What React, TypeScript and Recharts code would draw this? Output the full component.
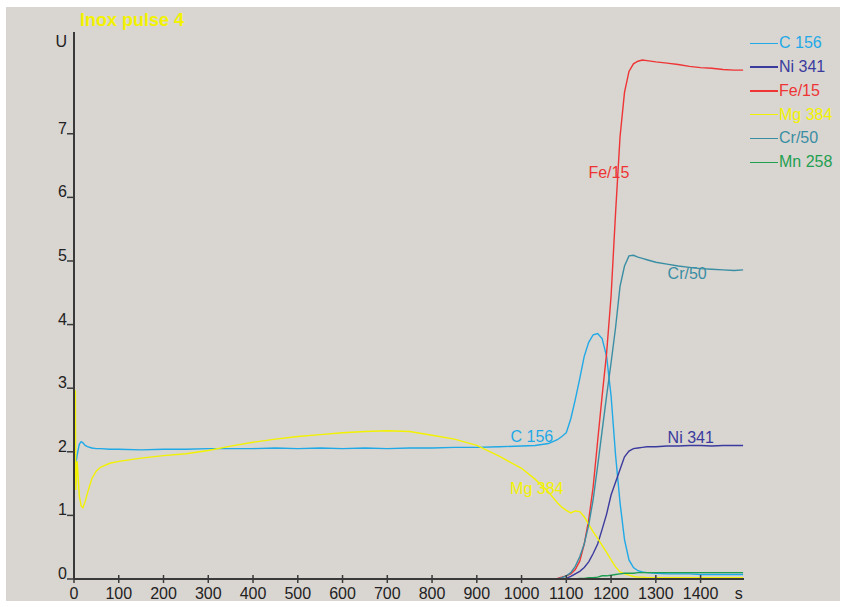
import React from 'react';
import { LineChart, Line, XAxis, YAxis, ReferenceDot } from 'recharts';

// ---------- data ----------
const times = [
  0, 3, 4, 7, 12, 16, 20, 25, 30, 40, 50, 60, 80, 100,
  150, 200, 250, 300, 350, 400, 450, 500, 550, 600, 650, 700, 750, 800, 850, 900, 950, 1000,
  1030, 1060, 1080,
  1090, 1100, 1110, 1120, 1130, 1140, 1150, 1160, 1170, 1180, 1190, 1200, 1210, 1220, 1230, 1240, 1250, 1260, 1270, 1280,
  1300, 1325, 1350, 1375, 1400, 1425, 1450, 1475, 1495,
];

const c156 = [
  1.75, 1.76, 1.8, 1.95, 2.12, 2.16, 2.14, 2.1, 2.08, 2.06, 2.05, 2.05, 2.04, 2.04,
  2.03, 2.04, 2.04, 2.05, 2.05, 2.05, 2.06, 2.05, 2.06, 2.05, 2.06, 2.05, 2.06, 2.06, 2.07, 2.07, 2.08, 2.09,
  2.1, 2.13, 2.19,
  2.24, 2.3, 2.52, 2.82, 3.15, 3.5, 3.72, 3.84, 3.86, 3.78, 3.5, 2.88, 1.95, 1.2, 0.62, 0.3, 0.18, 0.13, 0.11, 0.1,
  0.09, 0.08, 0.08, 0.08, 0.07, 0.07, 0.07, 0.07, 0.07,
];

const ni341 = [
  0, 0, 0, 0, 0, 0, 0, 0, 0, 0, 0, 0, 0, 0,
  0, 0, 0, 0, 0, 0, 0, 0, 0, 0, 0, 0, 0, 0, 0, 0, 0, 0,
  0, 0, 0,
  0, 0.01, 0.04, 0.08, 0.12, 0.18, 0.27, 0.4, 0.55, 0.78, 1.02, 1.32, 1.52, 1.72, 1.92, 2.01, 2.05, 2.06, 2.07, 2.08,
  2.08, 2.09, 2.09, 2.1, 2.1, 2.09, 2.1, 2.1, 2.1,
];

const fe15 = [
  0, 0, 0, 0, 0, 0, 0, 0, 0, 0, 0, 0, 0, 0,
  0, 0, 0, 0, 0, 0, 0, 0, 0, 0, 0, 0, 0, 0, 0, 0, 0, 0,
  0, 0, 0.01,
  0.03, 0.05, 0.08, 0.15, 0.28, 0.55, 0.93, 1.45, 2.17, 2.88, 3.55, 4.45, 5.75, 6.95, 7.65, 7.98, 8.1, 8.14, 8.16, 8.15,
  8.13, 8.11, 8.09, 8.06, 8.04, 8.03, 8.01, 8.0, 8.0,
];

const mg384 = [
  3.0, 2.95, 1.4, 1.85, 1.3, 1.15, 1.12, 1.22, 1.35, 1.58, 1.7, 1.76, 1.82, 1.85,
  1.9, 1.94, 1.97, 2.02, 2.09, 2.15, 2.2, 2.24, 2.27, 2.3, 2.32, 2.33, 2.32, 2.26, 2.2, 2.1, 1.93, 1.74,
  1.57, 1.37, 1.2,
  1.13, 1.08, 1.04, 1.07, 1.06, 0.98, 0.86, 0.74, 0.64, 0.53, 0.42, 0.3, 0.19, 0.11, 0.08, 0.06, 0.04, 0.03, 0.03, 0.02,
  0.02, 0.02, 0.02, 0.02, 0.02, 0.02, 0.02, 0.02, 0.02,
];

const cr50 = [
  0, 0, 0, 0, 0, 0, 0, 0, 0, 0, 0, 0, 0, 0,
  0, 0, 0, 0, 0, 0, 0, 0, 0, 0, 0, 0, 0, 0, 0, 0, 0, 0,
  0, 0, 0,
  0.02, 0.05, 0.1, 0.2, 0.35, 0.55, 0.85, 1.25, 1.78, 2.33, 2.88, 3.4, 3.95, 4.6, 4.92, 5.08, 5.09, 5.06, 5.04, 5.02,
  4.98, 4.95, 4.92, 4.9, 4.88, 4.87, 4.86, 4.85, 4.86,
];

const mn258 = [
  0, 0, 0, 0, 0, 0, 0, 0, 0, 0, 0, 0, 0, 0,
  0, 0, 0, 0, 0, 0, 0, 0, 0, 0, 0, 0, 0, 0, 0, 0, 0, 0,
  0, 0, 0,
  0, 0, 0, 0, 0.01, 0.01, 0.02, 0.02, 0.03, 0.05, 0.05, 0.06, 0.07, 0.08, 0.09, 0.09, 0.09, 0.1, 0.1, 0.1,
  0.1, 0.1, 0.1, 0.1, 0.1, 0.1, 0.1, 0.1, 0.1,
];

const seriesKeys = ['c156', 'ni341', 'fe15', 'mg384', 'cr50', 'mn258'];
const seriesNames = ['C 156', 'Ni 341', 'Fe/15', 'Mg 384', 'Cr/50', 'Mn 258'];
const seriesColors = ['#1fa9e6', '#3b3b9e', '#ee3434', '#f2f200', '#3a8ea3', '#1fa050'];

const xTicks = [0, 100, 200, 300, 400, 500, 600, 700, 800, 900, 1000, 1100, 1200, 1300, 1400];
const xUnitTick = 1485;
const xUnitLabel = 's';
const yTicks = [0, 1, 2, 3, 4, 5, 6, 7];
const yUnitTick = 8.45;
const yUnitLabel = 'U';
const title = 'Inox pulse 4';

// in-plot labels (data coordinates)
const inlineLabels = [
  { name: 'Fe/15', t: 1195, v: 6.4, color: '#ee3434' },
  { name: 'Cr/50', t: 1370, v: 4.81, color: '#3a8ea3' },
  { name: 'C 156', t: 1023, v: 2.24, color: '#1fa9e6' },
  { name: 'Ni 341', t: 1378, v: 2.22, color: '#3b3b9e' },
  { name: 'Mg 384', t: 1034, v: 1.42, color: '#f2f200' },
];

const data = times.map((t, i) => ({
  t,
  c156: c156[i],
  ni341: ni341[i],
  fe15: fe15[i],
  mg384: mg384[i],
  cr50: cr50[i],
  mn258: mn258[i],
}));

// ---------- styling ----------
const FONT = '"Liberation Sans", Arial, sans-serif';
const BG = '#d9d5d1';
const AXIS = '#3a3a3a';
const TXT = '#222222';

const XTick = (props: any) => {
  const { x, y, payload } = props;
  const isUnit = payload.value === xUnitTick;
  return (
    <g>
      {!isUnit && <line x1={x} x2={x} y1={y - 4} y2={y + 4} stroke={AXIS} strokeWidth={1.5} />}
      <text x={x} y={y + 20} textAnchor="middle" fontSize={16} fontFamily={FONT} fill={TXT}>
        {isUnit ? xUnitLabel : String(payload.value)}
      </text>
    </g>
  );
};

const YTick = (props: any) => {
  const { x, y, payload } = props;
  const isUnit = payload.value === yUnitTick;
  return (
    <g>
      {!isUnit && <line x1={x - 7} x2={x} y1={y} y2={y} stroke={AXIS} strokeWidth={1.5} />}
      <text x={x - 7} y={isUnit ? y + 5 : y} textAnchor="end" fontSize={16} fontFamily={FONT} fill={TXT}>
        {isUnit ? yUnitLabel : String(payload.value)}
      </text>
    </g>
  );
};

export default function App() {
  return (
    <div
      style={{
        position: 'absolute',
        left: 6,
        top: 7,
        width: 834,
        height: 594,
        background: BG,
        fontFamily: FONT,
      }}
    >
      <div
        style={{
          position: 'absolute',
          left: 74,
          top: 4,
          fontSize: 18,
          lineHeight: '18px',
          fontWeight: 'bold',
          color: '#f2f200',
          whiteSpace: 'nowrap',
        }}
      >
        {title}
      </div>
      <div style={{ position: 'absolute', left: 744, top: 24.4, width: 90 }}>
        {seriesNames.map((n, i) => (
          <div key={n} style={{ height: 23.8, display: 'flex', alignItems: 'center' }}>
            <div style={{ width: 28, height: 1.5, background: seriesColors[i] }} />
            <div style={{ marginLeft: 1, fontSize: 16, lineHeight: '16px', color: seriesColors[i], whiteSpace: 'nowrap' }}>
              {n}
            </div>
          </div>
        ))}
      </div>
      <LineChart width={834} height={594} data={data} margin={{ top: 25, right: 96, bottom: 0, left: 28 }}>
        <XAxis
          type="number"
          dataKey="t"
          domain={[0, 1497]}
          ticks={[...xTicks, xUnitTick]}
          interval={0}
          tick={<XTick />}
          tickLine={false}
          tickSize={0}
          tickMargin={0}
          axisLine={{ stroke: AXIS, strokeWidth: 2 }}
          height={22}
          allowDataOverflow
        />
        <YAxis
          type="number"
          domain={[0, 8.6]}
          ticks={[...yTicks, yUnitTick]}
          interval={0}
          tick={<YTick />}
          tickLine={false}
          tickSize={0}
          tickMargin={0}
          axisLine={{ stroke: AXIS, strokeWidth: 2 }}
          width={40}
          allowDataOverflow
        />
        {seriesKeys.map((k, i) => (
          <Line
            key={k}
            type="linear"
            dataKey={k}
            name={seriesNames[i]}
            stroke={seriesColors[i]}
            strokeWidth={1.4}
            dot={false}
            activeDot={false}
            isAnimationActive={false}
          />
        ))}
        {inlineLabels.map((l) => (
          <ReferenceDot
            key={l.name}
            x={l.t}
            y={l.v}
            r={0}
            fill="none"
            stroke="none"
            ifOverflow="visible"
            label={{ value: l.name, position: 'center', fill: l.color, fontSize: 16, fontFamily: FONT }}
          />
        ))}
      </LineChart>
    </div>
  );
}
